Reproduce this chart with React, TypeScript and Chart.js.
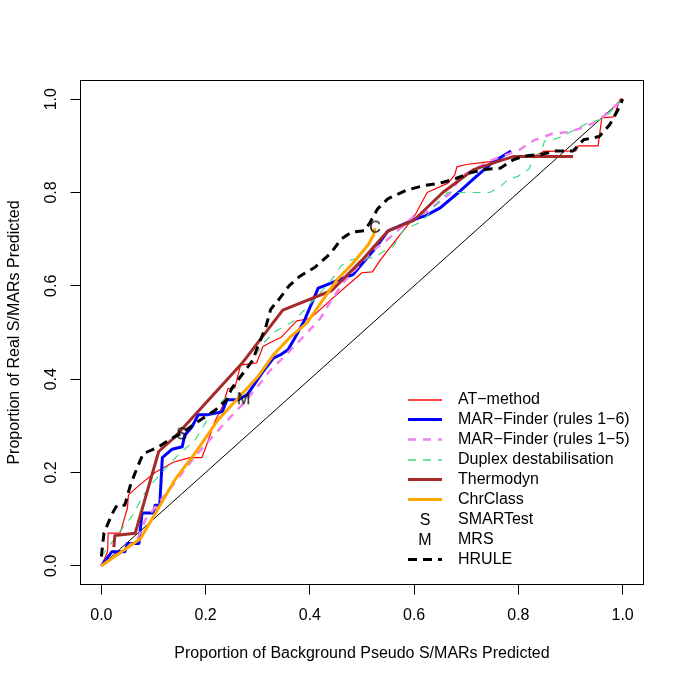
import React, { useEffect, useRef } from "react";
import { Chart, registerables } from "chart.js";

Chart.register(...registerables);

const FONT_FAMILY = '"Liberation Sans", Arial, Helvetica, sans-serif';

const X_TICKS = [0, 0.2, 0.4, 0.6, 0.8, 1.0];
const Y_TICKS = [0, 0.2, 0.4, 0.6, 0.8, 1.0];
const X_TITLE = "Proportion of Background Pseudo S/MARs Predicted";
const Y_TITLE = "Proportion of Real S/MARs Predicted";

const DIAG_X = [0, 1];
const DIAG_Y = [0, 1];

const AT_X = [0, 0.012, 0.013, 0.036, 0.04, 0.05, 0.052, 0.074, 0.103, 0.138, 0.17, 0.193, 0.2, 0.218, 0.232, 0.243, 0.256, 0.267, 0.298, 0.31, 0.323, 0.345, 0.375, 0.4, 0.413, 0.44, 0.5, 0.52, 0.535, 0.555, 0.6, 0.625, 0.665, 0.678, 0.682, 0.7, 0.745, 0.78, 0.835, 0.848, 0.91, 0.915, 0.953, 0.96, 0.983, 0.995, 1.0];
const AT_Y = [0, 0.03, 0.07, 0.07, 0.085, 0.124, 0.152, 0.174, 0.2, 0.222, 0.232, 0.232, 0.253, 0.31, 0.341, 0.38, 0.381, 0.43, 0.435, 0.47, 0.478, 0.49, 0.525, 0.53, 0.542, 0.57, 0.628, 0.63, 0.655, 0.684, 0.748, 0.8, 0.82, 0.838, 0.855, 0.86, 0.866, 0.874, 0.88, 0.888, 0.889, 0.9, 0.9, 0.96, 0.962, 1.0, 1.0];

const MF6_X = [0, 0.02, 0.045, 0.05, 0.072, 0.078, 0.1, 0.103, 0.112, 0.117, 0.136, 0.155, 0.16, 0.174, 0.186, 0.205, 0.232, 0.241, 0.263, 0.28, 0.308, 0.33, 0.343, 0.358, 0.372, 0.39, 0.416, 0.432, 0.465, 0.483, 0.503, 0.525, 0.55, 0.598, 0.625, 0.65, 0.685, 0.714, 0.752, 0.786];
const MF6_Y = [0, 0.03, 0.03, 0.048, 0.048, 0.113, 0.113, 0.13, 0.13, 0.232, 0.25, 0.255, 0.28, 0.298, 0.324, 0.324, 0.33, 0.356, 0.356, 0.367, 0.413, 0.445, 0.452, 0.463, 0.49, 0.527, 0.595, 0.602, 0.617, 0.624, 0.651, 0.68, 0.718, 0.741, 0.752, 0.767, 0.8, 0.829, 0.866, 0.889];

const MF5_X = [0, 0.04, 0.07, 0.085, 0.135, 0.18, 0.24, 0.27, 0.3, 0.325, 0.37, 0.42, 0.44, 0.465, 0.52, 0.55, 0.6, 0.62, 0.668, 0.69, 0.75, 0.8, 0.83, 0.865, 0.9, 0.93, 0.955, 0.975, 1.0];
const MF5_Y = [0, 0.03, 0.06, 0.1, 0.17, 0.235, 0.31, 0.345, 0.385, 0.42, 0.47, 0.53, 0.567, 0.608, 0.675, 0.7, 0.75, 0.755, 0.797, 0.835, 0.87, 0.89, 0.912, 0.926, 0.93, 0.942, 0.955, 0.975, 1.0];

const DUPLEX_X = [0, 0.04, 0.06, 0.08, 0.1, 0.145, 0.18, 0.21, 0.25, 0.31, 0.33, 0.37, 0.44, 0.46, 0.48, 0.52, 0.56, 0.58, 0.61, 0.625, 0.65, 0.665, 0.745, 0.765, 0.78, 0.8, 0.82, 0.83, 0.845, 0.85, 0.865, 0.885, 0.9, 0.93, 0.955, 0.972, 0.99, 1.0];
const DUPLEX_Y = [0.02, 0.08, 0.108, 0.15, 0.18, 0.235, 0.27, 0.325, 0.375, 0.475, 0.5, 0.525, 0.61, 0.643, 0.656, 0.66, 0.685, 0.72, 0.735, 0.75, 0.785, 0.8, 0.8, 0.812, 0.828, 0.835, 0.85, 0.875, 0.89, 0.91, 0.913, 0.92, 0.93, 0.947, 0.956, 0.967, 0.99, 1.0];

const THERMO_X = [0.024, 0.026, 0.065, 0.11, 0.14, 0.272, 0.348, 0.442, 0.5, 0.55, 0.6, 0.655, 0.714, 0.77, 0.79, 0.905];
const THERMO_Y = [0.04, 0.065, 0.07, 0.245, 0.275, 0.437, 0.548, 0.59, 0.655, 0.718, 0.741, 0.8, 0.849, 0.87, 0.877, 0.877];

const CHR_X = [0, 0.075, 0.142, 0.18, 0.224, 0.263, 0.3, 0.33, 0.362, 0.394, 0.425, 0.452, 0.483, 0.512, 0.522, 0.525];
const CHR_Y = [0, 0.058, 0.186, 0.242, 0.313, 0.36, 0.405, 0.452, 0.49, 0.52, 0.57, 0.613, 0.649, 0.688, 0.709, 0.724];

const HRULE_X = [0, 0.005, 0.02, 0.03, 0.045, 0.055, 0.065, 0.08, 0.09, 0.11, 0.13, 0.155, 0.18, 0.2, 0.22, 0.24, 0.25, 0.27, 0.29, 0.3, 0.315, 0.325, 0.34, 0.36, 0.38, 0.41, 0.44, 0.46, 0.48, 0.505, 0.515, 0.53, 0.55, 0.585, 0.62, 0.65, 0.68, 0.71, 0.74, 0.765, 0.79, 0.81, 0.845, 0.87, 0.905, 0.925, 0.955, 0.975, 0.99, 1.0];
const HRULE_Y = [0.02, 0.07, 0.11, 0.13, 0.13, 0.17, 0.2, 0.24, 0.245, 0.255, 0.27, 0.285, 0.305, 0.32, 0.335, 0.355, 0.38, 0.41, 0.44, 0.47, 0.51, 0.55, 0.57, 0.6, 0.62, 0.64, 0.67, 0.7, 0.715, 0.718, 0.735, 0.765, 0.787, 0.805, 0.815, 0.82, 0.83, 0.843, 0.85, 0.852, 0.87, 0.878, 0.882, 0.889, 0.889, 0.913, 0.92, 0.945, 0.975, 1.0];

const SMARTEST_PT = [0.154, 0.284];
const MRS_PT = [0.273, 0.359];
const CHRCLASS_PT = [0.525, 0.727];

type Style = { label: string; color: string; width: number; dash: number[]; letter?: string };

const STYLES: Record<string, Style> = {
  diag: { label: "", color: "#000000", width: 1, dash: [] },
  at: { label: "AT\u2212method", color: "#ff0000", width: 1.2, dash: [] },
  mf6: { label: "MAR\u2212Finder (rules 1\u22126)", color: "#0000ff", width: 3, dash: [] },
  mf5: { label: "MAR\u2212Finder (rules 1\u22125)", color: "#ee82ee", width: 2.5, dash: [8, 7] },
  duplex: { label: "Duplex destabilisation", color: "#3ddc84", width: 1.2, dash: [8, 7] },
  thermo: { label: "Thermodyn", color: "#a52a2a", width: 3, dash: [] },
  chr: { label: "ChrClass", color: "#ffa500", width: 3, dash: [] },
  smartest: { label: "SMARTest", color: "#000000", width: 0, dash: [], letter: "S" },
  mrs: { label: "MRS", color: "#000000", width: 0, dash: [], letter: "M" },
  hrule: { label: "HRULE", color: "#000000", width: 3, dash: [9, 6] },
};

const LEGEND_ORDER = ["at", "mf6", "mf5", "duplex", "thermo", "chr", "smartest", "mrs", "hrule"];

const zip = (xs: number[], ys: number[]) => xs.map((x, i) => ({ x, y: ys[i] }));

function letterCanvas(ch: string): HTMLCanvasElement {
  const c = document.createElement("canvas");
  c.width = 24;
  c.height = 24;
  const g = c.getContext("2d")!;
  g.font = `16px ${FONT_FAMILY}`;
  g.fillStyle = "#000";
  g.textAlign = "center";
  g.textBaseline = "alphabetic";
  g.fillText(ch, 12, 12 + 5.8);
  return c;
}

const boxPlugin = {
  id: "rbox",
  afterDraw(chart: any) {
    const { ctx, chartArea } = chart;
    ctx.save();
    ctx.strokeStyle = "#000";
    ctx.lineWidth = 1;
    ctx.setLineDash([]);
    ctx.strokeRect(chartArea.left, chartArea.top, chartArea.right - chartArea.left, chartArea.bottom - chartArea.top);
    ctx.restore();
  },
};

const legendPlugin = {
  id: "rlegend",
  afterDraw(chart: any) {
    const ctx: CanvasRenderingContext2D = chart.ctx;
    const x0 = 408, x1 = 442, tx = 458, y0 = 399.5, dy = 20;
    LEGEND_ORDER.forEach((key, i) => {
      const st = STYLES[key];
      const y = y0 + i * dy;
      ctx.save();
      if (st.letter) {
        ctx.font = `16px ${FONT_FAMILY}`;
        ctx.fillStyle = "#000000";
        ctx.textAlign = "center";
        ctx.textBaseline = "alphabetic";
        ctx.fillText(st.letter, (x0 + x1) / 2, y + 5.8);
      } else {
        const ly = st.width < 2 ? Math.round(y) : y;
        ctx.beginPath();
        ctx.strokeStyle = st.color;
        ctx.lineWidth = st.width < 2 ? 1.6 : st.width;
        ctx.setLineDash(st.dash);
        ctx.lineCap = "butt";
        ctx.moveTo(x0, ly);
        ctx.lineTo(x1, ly);
        ctx.stroke();
      }
      ctx.restore();
      ctx.save();
      ctx.font = `16px ${FONT_FAMILY}`;
      ctx.fillStyle = "#000000";
      ctx.textAlign = "left";
      ctx.textBaseline = "middle";
      ctx.fillText(st.label, tx, y + 0.5);
      ctx.restore();
    });
  },
};

export default function App() {
  const ref = useRef<HTMLCanvasElement | null>(null);

  useEffect(() => {
    if (!ref.current) return;
    const lineDs = (key: string, xs: number[], ys: number[], order: number) => {
      const st = STYLES[key];
      return {
        label: st.label || key,
        data: zip(xs, ys),
        showLine: true,
        borderColor: st.color,
        backgroundColor: st.color,
        borderWidth: st.width,
        borderDash: st.dash,
        borderCapStyle: "butt",
        borderJoinStyle: "round",
        pointRadius: 0,
        pointHoverRadius: 0,
        tension: 0,
        order,
      };
    };
    const ptDs = (label: string, pt: number[], ch: string, order: number) => ({
      label,
      data: [{ x: pt[0], y: pt[1] }],
      showLine: false,
      pointStyle: letterCanvas(ch),
      pointRadius: 8,
      pointHoverRadius: 8,
      borderColor: "#000",
      backgroundColor: "#000",
      order,
    });

    const datasets: any[] = [
      lineDs("diag", DIAG_X, DIAG_Y, 100),
      lineDs("at", AT_X, AT_Y, 90),
      lineDs("mf6", MF6_X, MF6_Y, 80),
      lineDs("mf5", MF5_X, MF5_Y, 70),
      lineDs("duplex", DUPLEX_X, DUPLEX_Y, 60),
      lineDs("thermo", THERMO_X, THERMO_Y, 50),
      lineDs("chr", CHR_X, CHR_Y, 40),
      ptDs(STYLES.smartest.label, SMARTEST_PT, "S", 30),
      ptDs(STYLES.mrs.label, MRS_PT, "M", 20),
      lineDs("hrule", HRULE_X, HRULE_Y, 10),
      ptDs("ChrClass point", CHRCLASS_PT, "C", 5),
    ];

    const font = { family: FONT_FAMILY, size: 16 };

    const chart = new Chart(ref.current, {
      type: "scatter",
      data: { datasets },
      options: {
        animation: false,
        responsive: false,
        layout: { padding: { top: 80.5, right: 41.5, left: 0, bottom: 0 } },
        plugins: { legend: { display: false }, tooltip: { enabled: false } },
        scales: {
          x: {
            type: "linear",
            min: -0.04,
            max: 1.04,
            afterBuildTicks: (s: any) => {
              s.ticks = X_TICKS.map((v) => ({ value: v }));
            },
            afterFit: (s: any) => {
              s.height = 100.5;
            },
            ticks: {
              callback: (v: any) => Number(v).toFixed(1),
              font,
              color: "#000",
              padding: 11,
              maxRotation: 0,
              autoSkip: false,
            },
            grid: { display: true, drawOnChartArea: false, drawTicks: true, tickLength: 10, color: "#000", tickColor: "#000" },
            border: { display: false },
            title: { display: true, text: X_TITLE, font, color: "#000", padding: { top: 0, bottom: 21.5 } },
          },
          y: {
            type: "linear",
            min: -0.04,
            max: 1.04,
            afterBuildTicks: (s: any) => {
              s.ticks = Y_TICKS.map((v) => ({ value: v }));
            },
            afterFit: (s: any) => {
              s.width = 80.5;
            },
            ticks: {
              callback: (v: any) => Number(v).toFixed(1),
              font,
              color: "#000",
              padding: 7.5,
              minRotation: 90,
              maxRotation: 90,
              crossAlign: "center",
              autoSkip: false,
            },
            grid: { display: true, drawOnChartArea: false, drawTicks: true, tickLength: 10, color: "#000", tickColor: "#000" },
            border: { display: false },
            title: { display: true, text: Y_TITLE, font, color: "#000", padding: { top: 4.5, bottom: 0 } },
          },
        },
      } as any,
      plugins: [boxPlugin, legendPlugin],
    });
    return () => chart.destroy();
  }, []);

  return (
    <div style={{ position: "fixed", left: 0, top: 0, width: 685, height: 685, background: "#fff" }}>
      <canvas ref={ref} width={685} height={685} style={{ width: 685, height: 685, display: "block" }} />
    </div>
  );
}
